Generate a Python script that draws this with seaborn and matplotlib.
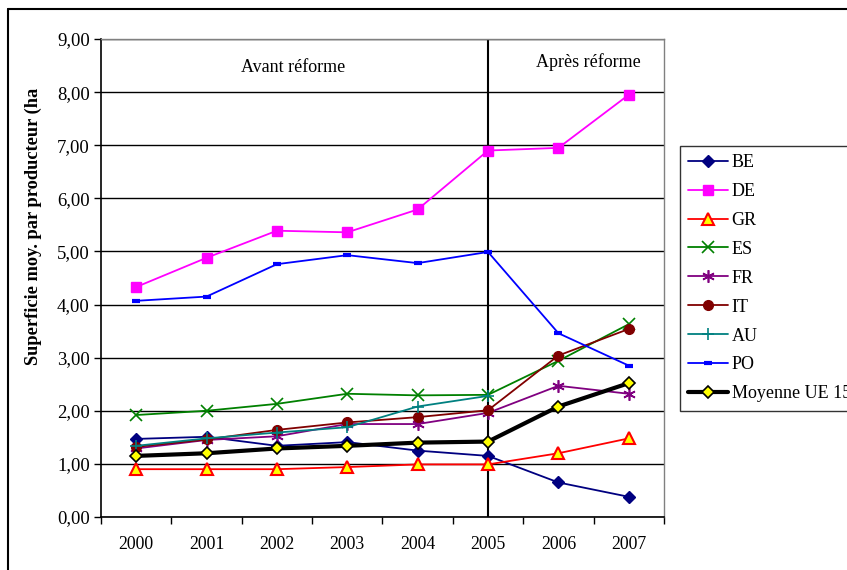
import numpy as np
import pandas as pd
import matplotlib
matplotlib.use("Agg")
import matplotlib.pyplot as plt
from matplotlib.lines import Line2D
import seaborn as sns

# data
years = ["2000", "2001", "2002", "2003", "2004", "2005", "2006", "2007"]
BE = [1.47, 1.51, 1.34, 1.41, 1.25, 1.15, 0.65, 0.38]
DE = [4.33, 4.88, 5.39, 5.36, 5.79, 6.90, 6.95, 7.95]
GR = [0.90, 0.90, 0.90, 0.94, 0.99, 0.99, 1.20, 1.48]
ES = [1.92, 2.00, 2.13, 2.32, 2.29, 2.30, 2.94, 3.63]
FR = [1.29, 1.45, 1.52, 1.75, 1.75, 1.96, 2.47, 2.32]
IT = [1.32, 1.46, 1.64, 1.78, 1.88, 2.01, 3.04, 3.54]
AU = [1.34, 1.48, 1.59, 1.69, 2.08, 2.28, np.nan, np.nan]
PO = [4.07, 4.15, 4.76, 4.93, 4.78, 4.99, 3.46, 2.85]
UE15 = [1.15, 1.20, 1.29, 1.34, 1.40, 1.42, 2.08, 2.52]

series = [
    ("BE", BE, dict(color="#000080", marker="D", ms=6, mfc="#000080", mec="#000080", lw=1.3)),
    ("DE", DE, dict(color="#FF00FF", marker="s", ms=7, mfc="#FF00FF", mec="#FF00FF", lw=1.3)),
    ("GR", GR, dict(color="#FF0000", marker="^", ms=8, mfc="#FFFF00", mec="#FF0000", mew=1.5, lw=1.3)),
    ("ES", ES, dict(color="#008000", marker="x", ms=8, mfc="#008000", mec="#008000", mew=1.2, lw=1.3)),
    ("FR", FR, dict(color="#800080", marker=(6, 2, 0), ms=9, mfc="#800080", mec="#800080", mew=1.2, lw=1.3)),
    ("IT", IT, dict(color="#800000", marker="o", ms=7, mfc="#800000", mec="#800000", lw=1.3)),
    ("AU", AU, dict(color="#008080", marker="+", ms=9, mfc="#008080", mec="#008080", mew=1.2, lw=1.3)),
    ("PO", PO, dict(color="#0000FF", marker="_", ms=6, mfc="#0000FF", mec="#0000FF", mew=3, lw=1.3)),
    ("Moyenne UE 15", UE15, dict(color="#000000", marker="D", ms=6, mfc="#FFFF00", mec="#000000", mew=1.2, lw=3)),
]

sns.set_theme(style="white")
plt.rcParams["font.family"] = ["Liberation Serif", "DejaVu Serif"]

fig = plt.figure(figsize=(8.47, 5.70), dpi=100)
ax = fig.add_axes([0.1192, 0.093, 0.6647, 0.8386])

x = np.arange(len(years))
handles = []
for name, vals, st in series:
    df = pd.DataFrame({"x": x, "y": vals}).dropna()
    sns.lineplot(data=df, x="x", y="y", ax=ax, color=st["color"], lw=st["lw"],
                 marker=st["marker"], markersize=st["ms"], markerfacecolor=st["mfc"],
                 markeredgecolor=st["mec"], markeredgewidth=st.get("mew", 1))
    handles.append(Line2D([], [], color=st["color"], lw=st["lw"], marker=st["marker"],
                          markersize=st["ms"], markerfacecolor=st["mfc"],
                          markeredgecolor=st["mec"], markeredgewidth=st.get("mew", 1)))

# reform line
ax.axvline(5, color="black", lw=1.5, zorder=1)

ax.set_xlim(-0.5, 7.5)
ax.set_ylim(0, 9)
ax.set_yticks(range(10))
ax.set_yticklabels([f"{v},00" for v in range(10)])
ax.set_xticks(x)
ax.set_xticklabels(years)
ax.set_xticks(np.arange(-0.5, 8, 1), minor=True)
ax.tick_params(axis="x", which="major", length=0, pad=14, labelsize=12.8, colors="black")
ax.tick_params(axis="x", which="minor", bottom=True, length=5, width=1, color="black", direction="out")
ax.tick_params(axis="y", left=True, length=5, width=1, color="black", direction="out",
               labelsize=13.5, colors="black", pad=3)
ax.yaxis.grid(True, color="black", lw=1)
ax.xaxis.grid(False)
ax.set_axisbelow(True)

for s in ["left", "bottom"]:
    ax.spines[s].set_color("black")
    ax.spines[s].set_linewidth(1.2)
for s in ["top", "right"]:
    ax.spines[s].set_color("#808080")
    ax.spines[s].set_linewidth(1)

ax.set_xlabel("")
ax.set_ylabel("Superficie moy. par producteur (ha", fontsize=13.2, fontweight="bold", color="black")
ax.yaxis.set_label_coords(-0.105, 0.607)

ax.text(2.23, 8.46, "Avant réforme", ha="center", va="center", fontsize=13, color="black")
ax.text(6.42, 8.57, "Après réforme", ha="center", va="center", fontsize=13, color="black")

# legend runs past the right edge, as in the cropped original
leg = fig.legend(handles, [s[0] for s in series], loc="upper left",
                 bbox_to_anchor=(0.803, 0.744), bbox_transform=fig.transFigure,
                 fontsize=13, frameon=True, fancybox=False, edgecolor="black",
                 labelspacing=0.66, handlelength=2.2, handletextpad=0.2, borderpad=0.45,
                 borderaxespad=0)
leg.get_frame().set_linewidth(1)
for t in leg.get_texts():
    t.set_color("black")

# outer chart border (cropped on the right and bottom)
fig.add_artist(Line2D([8 / 847, 8 / 847], [0, 1 - 9 / 570], transform=fig.transFigure, color="black", lw=1.5))
fig.add_artist(Line2D([8 / 847, 1], [1 - 9 / 570, 1 - 9 / 570], transform=fig.transFigure, color="black", lw=1.5))

fig.savefig("out.png", dpi=100)
